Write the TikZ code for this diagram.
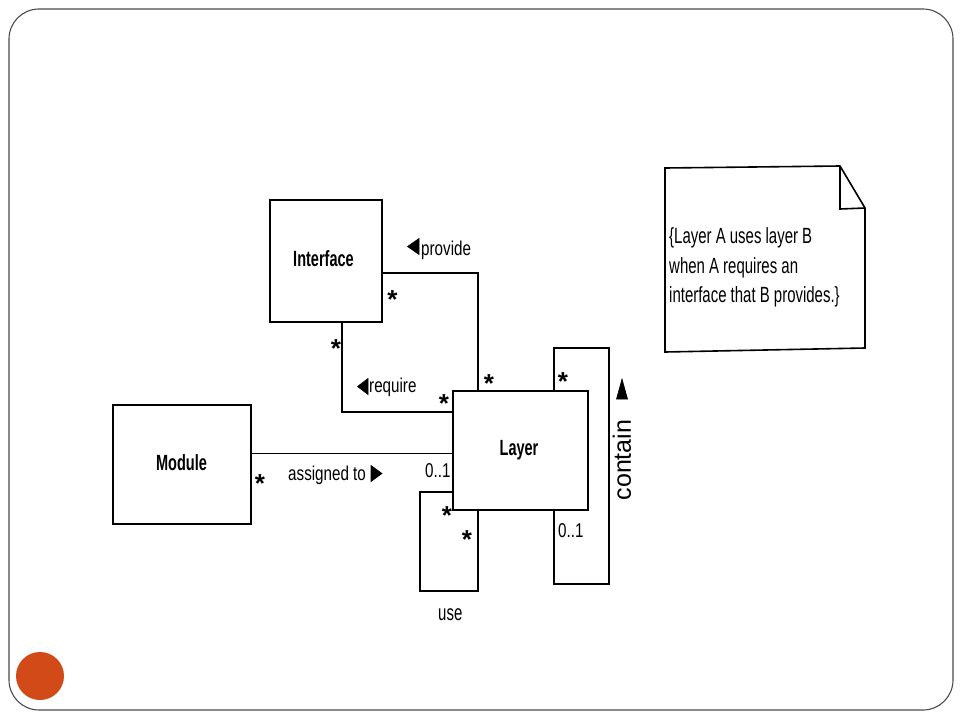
\documentclass[tikz,border=0pt]{standalone}
\usepackage{fontspec}
\setmainfont{Liberation Sans}
\newfontfamily\labelf{Liberation Sans}[FakeStretch=0.76]
\newfontfamily\classf{Liberation Sans}[FakeStretch=0.66]
\newfontfamily\notef{Liberation Sans}[FakeStretch=0.68]
\newfontfamily\usef{Liberation Sans}[FakeStretch=0.68]
\definecolor{slideorange}{RGB}{210,74,24}
\begin{document}
\begin{tikzpicture}[x=1pt,y=-1pt,
  umlclass/.style={draw, line width=1.7pt, inner sep=0pt},
  classname/.style={inner sep=0pt, anchor=base,
    font=\classf\bfseries\fontsize{22}{26}\selectfont},
  assoc/.style={line width=1.6pt},
  lbl/.style={inner sep=0pt, anchor=base west, font=\labelf\fontsize{20}{24}\selectfont},
  tri/.style={fill=black, draw=black, line width=0.6pt, line join=miter},
  mult/.style={inner sep=0pt, font=\fontsize{26}{28}\selectfont\bfseries},
  noteline/.style={inner sep=0pt, anchor=base west, font=\notef\fontsize{22}{26}\selectfont}]
\useasboundingbox (0,0) rectangle (960,720);
\fill[white] (0,0) rectangle (960,720);
% slide frame
\draw[black!70, line width=1.1pt, rounded corners=30pt] (9,9) rectangle (953,710);
\fill[slideorange] (40,676) circle (24);

% classes
\node[umlclass, minimum width=112pt, minimum height=122pt] (Interface) at (326,261) {};
\node[umlclass, minimum width=138pt, minimum height=119pt] (Module) at (182,464.5) {};
\node[umlclass, minimum width=135pt, minimum height=119pt] (Layer) at (520.5,450.5) {};
\node[classname] (InterfaceName) at (323.5,266.5) {Interface};
\node[classname] (ModuleName) at (181.5,470) {Module};
\node[classname] (LayerName) at (519,455.5) {Layer};

% helper coordinates
\coordinate (useC) at (420,591);
\coordinate (contA) at (609,348);
\coordinate (contB) at (554,584);

% provide
\draw[assoc] ([yshift=-12pt]Interface.east) -| ([xshift=-42.5pt]Layer.north);
% require
\draw[assoc] ([xshift=16pt]Interface.south) |- ([yshift=38.5pt]Layer.west);
% assigned to
\draw[assoc] ([yshift=11pt]Module.east) coordinate (asg) -- (asg -| Layer.west);
% use
\draw[assoc] ([yshift=-41.5pt]Layer.west) -| (useC) -| ([xshift=-42.5pt]Layer.south);
% contain
\draw[assoc] ([xshift=33.5pt]Layer.north) |- (contA) |- (contB) -- ([xshift=33.5pt]Layer.south);

% labels
\node[lbl] (provideL) at (421,255) {provide};
\draw[tri] (419,238.5) -- (419,254.5) -- (407.5,246.5) -- cycle;
\node[lbl] (requireL) at (369,392) {require};
\draw[tri] (368,378.5) -- (368,394.5) -- (357.5,386.5) -- cycle;
\node[lbl] (assignL) at (288,480) {assigned to};
\draw[tri] (371,465.5) -- (371,481.5) -- (382,473.5) -- cycle;
\node[inner sep=0pt, anchor=base west, font=\usef\fontsize{22}{26}\selectfont] (useL) at (438,620) {use};
\node[lbl] (zeroA) at (425,477) {0..1};
\node[lbl] (zeroB) at (558,537) {0..1};
\node[inner sep=0pt, rotate=90, font=\fontsize{25}{28}\selectfont] (containL) at (622,460) {contain};
\draw[tri] (616.5,399) -- (627.5,399) -- (622,379) -- cycle;

% multiplicities
\node[mult] (m1) at (392.5,299.5) {*};
\node[mult] (m2) at (336,349) {*};
\node[mult] (m3) at (444,404) {*};
\node[mult] (m4) at (489,384) {*};
\node[mult] (m5) at (563,382) {*};
\node[mult] (m6) at (260,484) {*};
\node[mult] (m7) at (447,516) {*};
\node[mult] (m8) at (467,540) {*};

% note
\draw[line width=1.6pt] (665,168) -- (840,166) -- (865,208) -- (865,348) -- (665,352) -- cycle;
\draw[line width=1.6pt] (840,166) -- (840,209) -- (865,208);
\node[noteline] (note1) at (669,243) {\{Layer A uses layer B};
\node[noteline] (note2) at (669,273) {when A requires an};
\node[noteline] (note3) at (669,302) {interface that B provides.\}};
\end{tikzpicture}
\end{document}
